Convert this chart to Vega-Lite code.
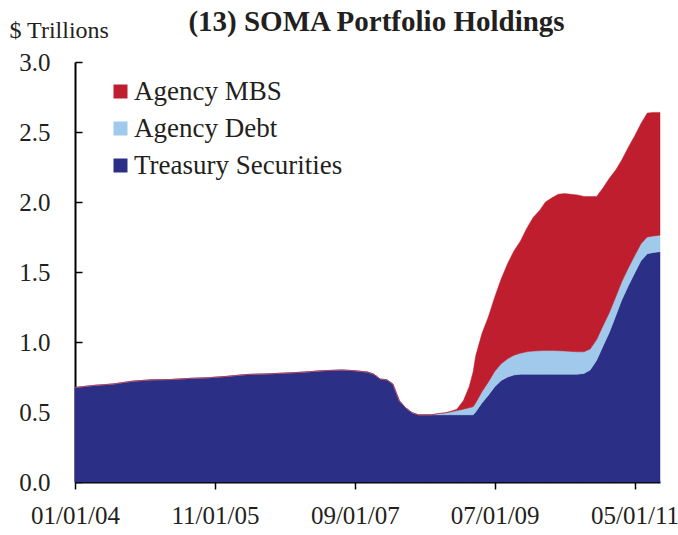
{
  "$schema": "https://vega.github.io/schema/vega-lite/v6.json",
  "autosize": "none",
  "width": 585,
  "height": 420,
  "padding": {"left": 75, "top": 62, "right": 18, "bottom": 53},
  "background": "white",
  "title": {
    "text": "(13) SOMA Portfolio Holdings",
    "font": "Liberation Serif",
    "fontSize": 29,
    "fontWeight": "bold",
    "color": "#231f20",
    "anchor": "middle",
    "frame": "group",
    "dx": 9,
    "dy": 29,
    "offset": 10
  },
  "data": {
    "values": [
      {"date": "2004-01-01", "Treasury Securities": 0.675, "Agency Debt": 0, "Agency MBS": 0},
      {"date": "2004-04-01", "Treasury Securities": 0.69, "Agency Debt": 0, "Agency MBS": 0},
      {"date": "2004-07-01", "Treasury Securities": 0.70, "Agency Debt": 0, "Agency MBS": 0},
      {"date": "2004-10-01", "Treasury Securities": 0.72, "Agency Debt": 0, "Agency MBS": 0},
      {"date": "2005-01-01", "Treasury Securities": 0.73, "Agency Debt": 0, "Agency MBS": 0},
      {"date": "2005-04-01", "Treasury Securities": 0.732, "Agency Debt": 0, "Agency MBS": 0},
      {"date": "2005-07-01", "Treasury Securities": 0.74, "Agency Debt": 0, "Agency MBS": 0},
      {"date": "2005-10-01", "Treasury Securities": 0.745, "Agency Debt": 0, "Agency MBS": 0},
      {"date": "2006-01-01", "Treasury Securities": 0.755, "Agency Debt": 0, "Agency MBS": 0},
      {"date": "2006-04-01", "Treasury Securities": 0.768, "Agency Debt": 0, "Agency MBS": 0},
      {"date": "2006-07-01", "Treasury Securities": 0.772, "Agency Debt": 0, "Agency MBS": 0},
      {"date": "2006-10-01", "Treasury Securities": 0.778, "Agency Debt": 0, "Agency MBS": 0},
      {"date": "2007-01-01", "Treasury Securities": 0.785, "Agency Debt": 0, "Agency MBS": 0},
      {"date": "2007-04-01", "Treasury Securities": 0.795, "Agency Debt": 0, "Agency MBS": 0},
      {"date": "2007-07-01", "Treasury Securities": 0.80, "Agency Debt": 0, "Agency MBS": 0},
      {"date": "2007-09-01", "Treasury Securities": 0.795, "Agency Debt": 0, "Agency MBS": 0},
      {"date": "2007-10-01", "Treasury Securities": 0.79, "Agency Debt": 0, "Agency MBS": 0},
      {"date": "2007-11-01", "Treasury Securities": 0.785, "Agency Debt": 0, "Agency MBS": 0},
      {"date": "2007-12-01", "Treasury Securities": 0.77, "Agency Debt": 0, "Agency MBS": 0},
      {"date": "2008-01-01", "Treasury Securities": 0.735, "Agency Debt": 0, "Agency MBS": 0},
      {"date": "2008-02-01", "Treasury Securities": 0.73, "Agency Debt": 0, "Agency MBS": 0},
      {"date": "2008-03-01", "Treasury Securities": 0.70, "Agency Debt": 0, "Agency MBS": 0},
      {"date": "2008-04-01", "Treasury Securities": 0.58, "Agency Debt": 0, "Agency MBS": 0},
      {"date": "2008-05-01", "Treasury Securities": 0.53, "Agency Debt": 0, "Agency MBS": 0},
      {"date": "2008-06-01", "Treasury Securities": 0.495, "Agency Debt": 0, "Agency MBS": 0},
      {"date": "2008-07-01", "Treasury Securities": 0.48, "Agency Debt": 0, "Agency MBS": 0},
      {"date": "2008-08-01", "Treasury Securities": 0.48, "Agency Debt": 0, "Agency MBS": 0},
      {"date": "2008-09-01", "Treasury Securities": 0.48, "Agency Debt": 0, "Agency MBS": 0},
      {"date": "2008-10-01", "Treasury Securities": 0.48, "Agency Debt": 0.008, "Agency MBS": 0},
      {"date": "2008-11-01", "Treasury Securities": 0.48, "Agency Debt": 0.013, "Agency MBS": 0},
      {"date": "2008-12-01", "Treasury Securities": 0.48, "Agency Debt": 0.02, "Agency MBS": 0.004},
      {"date": "2009-01-01", "Treasury Securities": 0.48, "Agency Debt": 0.03, "Agency MBS": 0.01},
      {"date": "2009-02-01", "Treasury Securities": 0.48, "Agency Debt": 0.04, "Agency MBS": 0.06},
      {"date": "2009-03-01", "Treasury Securities": 0.48, "Agency Debt": 0.05, "Agency MBS": 0.15},
      {"date": "2009-03-20", "Treasury Securities": 0.48, "Agency Debt": 0.058, "Agency MBS": 0.25},
      {"date": "2009-04-01", "Treasury Securities": 0.50, "Agency Debt": 0.065, "Agency MBS": 0.335},
      {"date": "2009-05-01", "Treasury Securities": 0.565, "Agency Debt": 0.08, "Agency MBS": 0.415},
      {"date": "2009-06-01", "Treasury Securities": 0.62, "Agency Debt": 0.095, "Agency MBS": 0.465},
      {"date": "2009-07-01", "Treasury Securities": 0.68, "Agency Debt": 0.11, "Agency MBS": 0.53},
      {"date": "2009-08-01", "Treasury Securities": 0.725, "Agency Debt": 0.12, "Agency MBS": 0.605},
      {"date": "2009-09-01", "Treasury Securities": 0.75, "Agency Debt": 0.13, "Agency MBS": 0.68},
      {"date": "2009-10-01", "Treasury Securities": 0.765, "Agency Debt": 0.14, "Agency MBS": 0.745},
      {"date": "2009-11-01", "Treasury Securities": 0.77, "Agency Debt": 0.15, "Agency MBS": 0.80},
      {"date": "2009-12-01", "Treasury Securities": 0.77, "Agency Debt": 0.16, "Agency MBS": 0.88},
      {"date": "2010-01-01", "Treasury Securities": 0.77, "Agency Debt": 0.165, "Agency MBS": 0.955},
      {"date": "2010-02-01", "Treasury Securities": 0.77, "Agency Debt": 0.168, "Agency MBS": 1.002},
      {"date": "2010-03-01", "Treasury Securities": 0.77, "Agency Debt": 0.169, "Agency MBS": 1.061},
      {"date": "2010-04-01", "Treasury Securities": 0.77, "Agency Debt": 0.169, "Agency MBS": 1.091},
      {"date": "2010-05-01", "Treasury Securities": 0.77, "Agency Debt": 0.168, "Agency MBS": 1.117},
      {"date": "2010-06-01", "Treasury Securities": 0.77, "Agency Debt": 0.166, "Agency MBS": 1.124},
      {"date": "2010-07-01", "Treasury Securities": 0.77, "Agency Debt": 0.163, "Agency MBS": 1.122},
      {"date": "2010-08-01", "Treasury Securities": 0.77, "Agency Debt": 0.16, "Agency MBS": 1.12},
      {"date": "2010-09-01", "Treasury Securities": 0.775, "Agency Debt": 0.155, "Agency MBS": 1.11},
      {"date": "2010-10-01", "Treasury Securities": 0.80, "Agency Debt": 0.15, "Agency MBS": 1.09},
      {"date": "2010-11-01", "Treasury Securities": 0.87, "Agency Debt": 0.147, "Agency MBS": 1.023},
      {"date": "2010-12-01", "Treasury Securities": 0.97, "Agency Debt": 0.145, "Agency MBS": 0.985},
      {"date": "2011-01-01", "Treasury Securities": 1.07, "Agency Debt": 0.14, "Agency MBS": 0.96},
      {"date": "2011-02-01", "Treasury Securities": 1.19, "Agency Debt": 0.135, "Agency MBS": 0.905},
      {"date": "2011-03-01", "Treasury Securities": 1.30, "Agency Debt": 0.13, "Agency MBS": 0.87},
      {"date": "2011-04-01", "Treasury Securities": 1.40, "Agency Debt": 0.127, "Agency MBS": 0.863},
      {"date": "2011-05-01", "Treasury Securities": 1.49, "Agency Debt": 0.125, "Agency MBS": 0.855},
      {"date": "2011-06-01", "Treasury Securities": 1.58, "Agency Debt": 0.122, "Agency MBS": 0.858},
      {"date": "2011-07-01", "Treasury Securities": 1.63, "Agency Debt": 0.12, "Agency MBS": 0.885},
      {"date": "2011-08-01", "Treasury Securities": 1.64, "Agency Debt": 0.118, "Agency MBS": 0.882},
      {"date": "2011-08-31", "Treasury Securities": 1.645, "Agency Debt": 0.118, "Agency MBS": 0.877}
    ]
  },
  "transform": [
    {"fold": ["Treasury Securities", "Agency Debt", "Agency MBS"], "as": ["series", "value"]},
    {"calculate": "indexof(['Treasury Securities','Agency Debt','Agency MBS'], datum.series)", "as": "stackorder"}
  ],
  "mark": {"type": "area", "interpolate": "linear", "strokeWidth": 0.5},
  "encoding": {
    "x": {
      "field": "date",
      "type": "temporal",
      "scale": {"type": "utc", "domain": [{"year": 2004, "month": 1, "date": 1, "utc": true}, {"year": 2011, "month": 8, "date": 31, "utc": true}]},
      "axis": {
        "title": null,
        "values": [
          {"year": 2004, "month": 1, "date": 1, "utc": true},
          {"year": 2005, "month": 11, "date": 1, "utc": true},
          {"year": 2007, "month": 9, "date": 1, "utc": true},
          {"year": 2009, "month": 7, "date": 1, "utc": true},
          {"year": 2011, "month": 5, "date": 1, "utc": true}
        ],
        "labelExpr": "utcFormat(datum.value, '%m/%d/%y')",
        "grid": false,
        "domainColor": "#000000",
        "domainWidth": 2,
        "tickColor": "#000000",
        "tickWidth": 1.5,
        "tickSize": 7,
        "labelFont": "Liberation Serif",
        "labelFontSize": 25,
        "labelColor": "#231f20",
        "labelPadding": 14,
        "labelFlush": false,
        "labelOverlap": false
      }
    },
    "y": {
      "field": "value",
      "type": "quantitative",
      "stack": "zero",
      "scale": {"domain": [0, 3], "nice": false},
      "axis": {
        "title": "$ Trillions",
        "titleAngle": 0,
        "titleAlign": "left",
        "titleBaseline": "alphabetic",
        "titleX": -66,
        "titleY": -25,
        "titleFont": "Liberation Serif",
        "titleFontSize": 24,
        "titleFontWeight": "normal",
        "titleColor": "#231f20",
        "values": [0, 0.5, 1, 1.5, 2, 2.5, 3],
        "format": ".1f",
        "grid": false,
        "domainColor": "#000000",
        "domainWidth": 2,
        "tickColor": "#000000",
        "tickWidth": 1.5,
        "tickSize": -7,
        "labelFont": "Liberation Serif",
        "labelFontSize": 25,
        "labelColor": "#231f20",
        "labelPadding": 32,
        "labelOverlap": false
      }
    },
    "color": {
      "field": "series",
      "type": "nominal",
      "scale": {
        "domain": ["Agency MBS", "Agency Debt", "Treasury Securities"],
        "range": ["#BE1E2D", "#A0C9EB", "#2B3086"]
      },
      "legend": {
        "title": null,
        "orient": "none",
        "legendX": 32,
        "legendY": 16,
        "symbolType": "square",
        "symbolSize": 196,
        "symbolStrokeWidth": 0,
        "labelFont": "Liberation Serif",
        "labelFontSize": 27,
        "labelColor": "#231f20",
        "labelOffset": 0,
        "rowPadding": 9,
        "labelLimit": 400
      }
    },
    "stroke": {
      "field": "series",
      "type": "nominal",
      "scale": {
        "domain": ["Agency MBS", "Agency Debt", "Treasury Securities"],
        "range": ["#BE1E2D", "#A0C9EB", "#2B3086"]
      },
      "legend": null
    },
    "order": {"field": "stackorder", "type": "quantitative", "sort": "ascending"}
  },
  "config": {
    "view": {"stroke": null}
  }
}
